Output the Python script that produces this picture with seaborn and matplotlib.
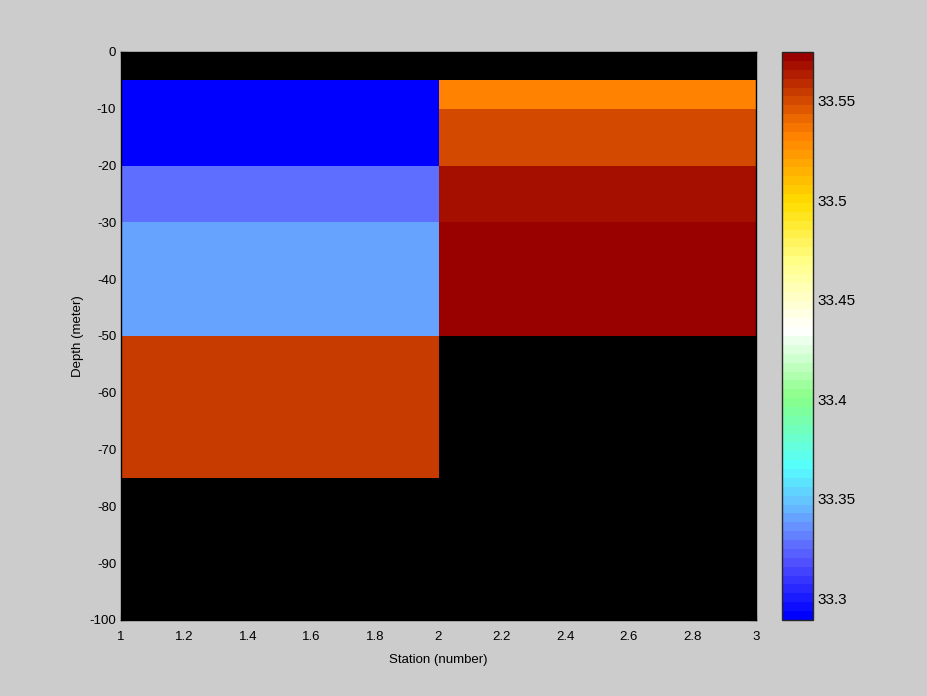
import numpy as np
import seaborn as sns
import matplotlib.pyplot as plt
from matplotlib.colors import LinearSegmentedColormap

# station cell edges and depth cell edges (meter)
station_edges = [1, 2, 3]
depth_edges = [0, -5, -10, -20, -30, -50, -75, -100]

# salinity per depth cell, top to bottom (nan = no data, shows black)
station1 = [np.nan, 33.289, 33.289, 33.325, 33.340, 33.555, np.nan]
station2 = [np.nan, 33.533, 33.550, 33.567, 33.5746, np.nan, np.nan]

cbar_ticks = [33.3, 33.35, 33.4, 33.45, 33.5, 33.55]

sns.set_style("ticks")
plt.rcParams["font.family"] = ["Liberation Sans", "DejaVu Sans"]
plt.rcParams["font.size"] = 9.5
plt.rcParams["axes.unicode_minus"] = False
plt.rcParams["text.color"] = "black"
plt.rcParams["axes.labelcolor"] = "black"
plt.rcParams["xtick.color"] = "black"
plt.rcParams["ytick.color"] = "black"

vmin, vmax = 33.289, 33.5746
anchors = [
    (33.289, "#0000ff"),
    (33.318, "#5555ff"),
    (33.332, "#6688ff"),
    (33.345, "#66bbff"),
    (33.365, "#55ffff"),
    (33.400, "#88ff88"),
    (33.435, "#ffffff"),
    (33.470, "#ffff88"),
    (33.500, "#ffdd00"),
    (33.535, "#ff8000"),
    (33.5746, "#990000"),
]
cmap = LinearSegmentedColormap.from_list(
    "sal", [((v - vmin) / (vmax - vmin), c) for v, c in anchors], N=64)

Z = np.array([station1, station2]).T

fig = plt.figure(figsize=(9.28, 6.96), dpi=100, facecolor="#cccccc")
ax = fig.add_axes([121 / 928, 1 - 620 / 696, (756 - 121) / 928, (620 - 52) / 696])
cax = fig.add_axes([782 / 928, 1 - 620 / 696, (813 - 782) / 928, (620 - 52) / 696])

ax.set_facecolor("black")
mesh = ax.pcolormesh(station_edges, depth_edges, Z, cmap=cmap, vmin=vmin, vmax=vmax)
ax.set_xlim(1, 3)
ax.set_ylim(-100, 0)
ax.set_xticks(np.arange(1, 3.01, 0.2))
ax.set_xticklabels(["1", "1.2", "1.4", "1.6", "1.8", "2", "2.2", "2.4", "2.6", "2.8", "3"])
ax.set_yticks(np.arange(-100, 1, 10))
ax.tick_params(direction="in", length=4, top=True, right=True, color="black", labelsize=9.5)
ax.tick_params(axis="x", pad=8)
ax.set_xlabel("Station (number)", labelpad=8)
ax.set_ylabel("Depth (meter)")
for s in ax.spines.values():
    s.set_color("black")
    s.set_linewidth(1)

cb = fig.colorbar(mesh, cax=cax)
cb.set_ticks(cbar_ticks)
cb.set_ticklabels(["33.3", "33.35", "33.4", "33.45", "33.5", "33.55"])
cax.tick_params(direction="in", length=4, left=True, right=True, labelsize=11)
cb.outline.set_linewidth(1)

fig.savefig("out.png", dpi=100, facecolor="#cccccc")
